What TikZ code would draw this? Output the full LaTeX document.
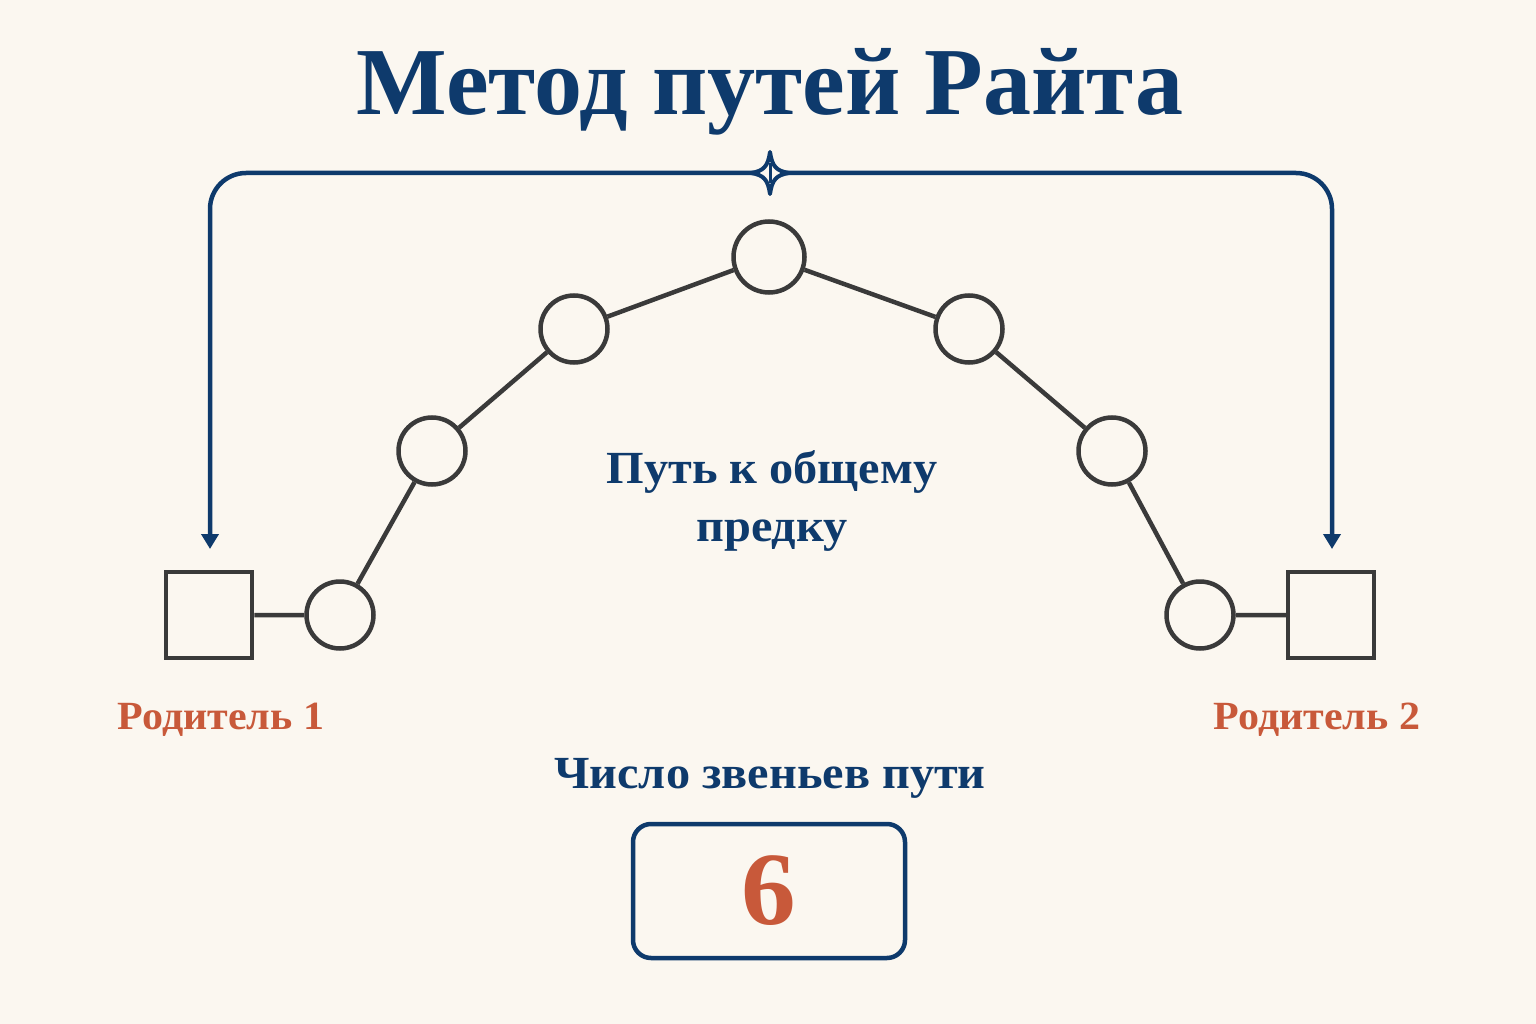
\documentclass[tikz,border=0pt]{standalone}
\usepackage{fontspec}
\setmainfont{Liberation Serif}
\newfontfamily\widefont[FakeStretch=1.05]{Liberation Serif}
\usetikzlibrary{arrows.meta}
\definecolor{bg}{HTML}{FBF7F0}
\definecolor{navy}{HTML}{0E3A6C}
\definecolor{rust}{HTML}{C8593A}
\definecolor{ink}{HTML}{3A3A3A}
\tikzset{
  pnode/.style={circle,draw=ink,line width=4.5pt,minimum size=67pt,inner sep=0pt,fill=bg},
  psquare/.style={rectangle,draw=ink,line width=4.5pt,minimum size=86pt,inner sep=0pt,fill=bg},
  link/.style={draw=ink,line width=4.5pt},
  bracket/.style={draw=navy,line width=4.5pt,rounded corners=36pt},
  navytext/.style={text=navy,font=\widefont\bfseries\fontsize{46}{58}\selectfont,align=center},
  rusttext/.style={text=rust,font=\widefont\bfseries\fontsize{40}{46}\selectfont},
}
\begin{document}
\begin{tikzpicture}[x=1pt,y=-1pt]
\fill[bg] (0,0) rectangle (1536,1024);
\useasboundingbox (0,0) rectangle (1536,1024);
% title
\node[text=navy,font=\bfseries\fontsize{96}{100}\selectfont] (title) at (770,92) {Метод путей Райта};
% bracket
\coordinate (star) at (770,173);
\coordinate (lend) at (210,549);
\coordinate (rend) at (1332,549);
\draw[bracket,-{Triangle[length=15pt,width=17pt]}] (star) -- (210,173) -- (lend);
\draw[bracket,-{Triangle[length=15pt,width=17pt]}] (star) -- (1332,173) -- (rend);
\draw[draw=navy,fill=bg,line width=4pt,line join=round]
  (770,152) .. controls (772,166) and (776,171) .. (789,173)
  .. controls (776,175) and (772,180) .. (770,194)
  .. controls (768,180) and (764,175) .. (751,173)
  .. controls (764,171) and (768,166) .. (770,152) -- cycle;
\draw[navy,line width=3pt] (770,163) -- (770,183);
% nodes
\node[psquare] (s1) at (209,615) {};
\node[psquare] (s2) at (1331,615) {};
\node[pnode] (c1) at (340,615) {};
\node[pnode] (c2) at (432,451) {};
\node[pnode] (c3) at (574,329) {};
\node[pnode,minimum size=71pt] (c4) at (769,257) {};
\node[pnode] (c5) at (969,329) {};
\node[pnode] (c6) at (1112,451) {};
\node[pnode] (c7) at (1200,615) {};
\draw[link] (s1) -- (c1) -- (c2) -- (c3) -- (c4) -- (c5) -- (c6) -- (c7) -- (s2);
% labels
\node[navytext] (path) at (772,501) {Путь к общему\\предку};
\node[rusttext] (p1) at (221,720) {Родитель 1};
\node[rusttext] (p2) at (1317,720) {Родитель 2};
\node[navytext] (count) at (770,778) {Число звеньев пути};
\node[draw=navy,line width=4.5pt,rounded corners=18pt,minimum width=272pt,minimum height=134pt,
      text=rust,font=\widefont\bfseries\fontsize{104}{104}\selectfont] (box) at (769,891) {6};
\end{tikzpicture}
\end{document}
